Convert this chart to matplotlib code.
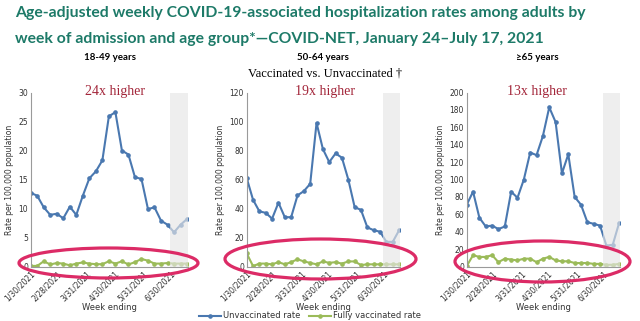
import matplotlib
matplotlib.use("Agg")
import matplotlib.pyplot as plt
from matplotlib.patches import Ellipse
import pandas as pd

# ---------------- data ----------------
week_ending = pd.date_range("2021-01-30", periods=25, freq="7D")

unvax_18_49 = [12.7, 12.2, 10.2, 8.9, 9.1, 8.3, 10.3, 8.9, 12.2, 15.2, 16.4, 18.3, 25.9,
               26.6, 20.0, 19.3, 15.4, 15.1, 9.9, 10.2, 7.9, 7.2, 5.9, 7.2, 8.2]
vax_18_49 = [0.1, 0.1, 0.9, 0.35, 0.6, 0.5, 0.2, 0.5, 0.7, 0.5, 0.4, 0.4, 0.9,
             0.5, 0.9, 0.35, 0.75, 1.3, 1.0, 0.5, 0.5, 0.6, 0.5, 0.5, 0.5]

unvax_50_64 = [61, 46, 38, 37, 33, 44, 34, 34, 49, 52, 57, 99, 81,
               72, 78, 75, 60, 41, 39, 27, 25, 24, 17, 17, 25]
vax_50_64 = [9, 0.3, 2, 2, 1.5, 3, 1.5, 3, 5, 3.5, 2.5, 1.5, 3.5,
             2.5, 3, 2, 3.5, 3.5, 1, 1.5, 1.5, 1.5, 1.5, 1.5, 1.5]

unvax_65 = [71, 86, 56, 46, 47, 43, 46, 86, 79, 100, 131, 128, 150,
            183, 166, 107, 129, 80, 71, 51, 49, 47, 24, 25, 50]
vax_65 = [0.5, 13, 11, 11, 13, 5, 9, 8, 7, 9, 9, 5, 9,
          11, 7, 6, 6, 4, 4, 4, 3, 3, 2, 2, 3]

panel_titles = ["18-49 years", "50-64 years", "\u226565 years"]
ratio_labels = ["24x higher", "19x higher", "13x higher"]
y_max = [30, 120, 200]
y_step = [5, 20, 20]
tick_dates = pd.to_datetime(["2021-01-30", "2021-02-28", "2021-03-31",
                             "2021-04-30", "2021-05-31", "2021-06-30"])
tick_labels = ["1/30/2021", "2/28/2021", "3/31/2021", "4/30/2021", "5/31/2021", "6/30/2021"]
series_names = ["Unvaccinated rate", "Fully vaccinated rate"]

unvax = [unvax_18_49, unvax_50_64, unvax_65]
vax = [vax_18_49, vax_50_64, vax_65]

# ---------------- style ----------------
W, H = 640, 321
BLUE = "#4a78b0"
GREEN = "#9bbb59"
TEAL = "#1d7a68"
RED = "#a3263a"
PINK = "#dc2b66"

fig = plt.figure(figsize=(6.4, 3.21), dpi=100)
fig.patch.set_facecolor("white")

def fx(px):
    return px / W

def fy(py):
    return 1 - py / H

axes_px = [(30.7, 188), (246.7, 400), (466.7, 620)]
top_px, bottom_px = 92.5, 266.5

handles = None
for i in range(3):
    l, r = axes_px[i]
    ax = fig.add_axes([fx(l), fy(bottom_px), fx(r - l), (bottom_px - top_px) / H])
    h1, = ax.plot(week_ending, unvax[i], color=BLUE, lw=1.5, marker="o", ms=2.3, zorder=2)
    h2, = ax.plot(week_ending, vax[i], color=GREEN, lw=1.5, marker="o", ms=2.3, zorder=2)
    handles = [h1, h2]
    ax.axvspan(pd.Timestamp("2021-06-29"), pd.Timestamp("2021-07-19"),
               color="#e6e6e6", alpha=0.65, lw=0, zorder=3)
    ax.set_xlim(week_ending[0], pd.Timestamp("2021-07-18"))
    ax.set_ylim(0, y_max[i])
    ax.set_yticks(range(0, y_max[i] + 1, y_step[i]))
    ax.set_xticks(tick_dates)
    ax.set_xticklabels(tick_labels, rotation=45, ha="right", rotation_mode="anchor",
                       fontsize=5.5, color="#333333")
    ax.tick_params(axis="both", length=0, pad=2)
    ax.tick_params(axis="y", labelsize=5.5, labelcolor="#333333")
    for s in ["top", "right"]:
        ax.spines[s].set_visible(False)
    for s in ["left", "bottom"]:
        ax.spines[s].set_color("#9a9a9a")
        ax.spines[s].set_linewidth(0.8)
    ax.set_xlabel("Week ending", fontsize=6, color="#333333", labelpad=0)
    ax.set_ylabel("Rate per 100,000 population", fontsize=5.5, color="#333333", labelpad=3)
    ax.patch.set_alpha(0)

# ---------------- overlay (titles, ellipses) ----------------
ov = fig.add_axes([0, 0, 1, 1], zorder=10)
ov.set_xlim(0, W)
ov.set_ylim(H, 0)
ov.axis("off")
ov.patch.set_alpha(0)

ov.text(15, 13, "Age-adjusted weekly COVID-19-associated hospitalization rates among adults by",
        fontsize=11.3, fontweight="bold", color=TEAL, family="Lato", va="center", ha="left")
ov.text(15, 39, "week of admission and age group*\u2014COVID-NET, January 24\u2013July 17, 2021",
        fontsize=11.3, fontweight="bold", color=TEAL, family="Lato", va="center", ha="left")

for cx, t in zip([110, 323, 537], panel_titles):
    ov.text(cx, 58, t, fontsize=7, fontweight="bold", color="black", family="Lato",
            ha="center", va="center")

ov.text(325, 74, "Vaccinated vs. Unvaccinated \u2020", fontsize=9, family="Liberation Serif",
        color="black", ha="center", va="center")

for cx, t in zip([115, 325, 537], ratio_labels):
    ov.text(cx, 91, t, fontsize=10, family="Liberation Serif", color=RED,
            ha="center", va="center")

ellipses = [(108.5, 263, 179, 30), (320.5, 259, 191, 40), (542.5, 261.5, 175, 41)]
for cx, cy, w, h in ellipses:
    ov.add_patch(Ellipse((cx, cy), w, h, fill=False, edgecolor=PINK, lw=2.3))

fig.legend(handles, series_names, loc="center", bbox_to_anchor=(fx(310), fy(316)),
           ncol=2, frameon=False, fontsize=6, handlelength=2.6, columnspacing=1.0,
           handletextpad=0.3, labelcolor="#333333", borderpad=0)

fig.savefig("out.png", dpi=100)
